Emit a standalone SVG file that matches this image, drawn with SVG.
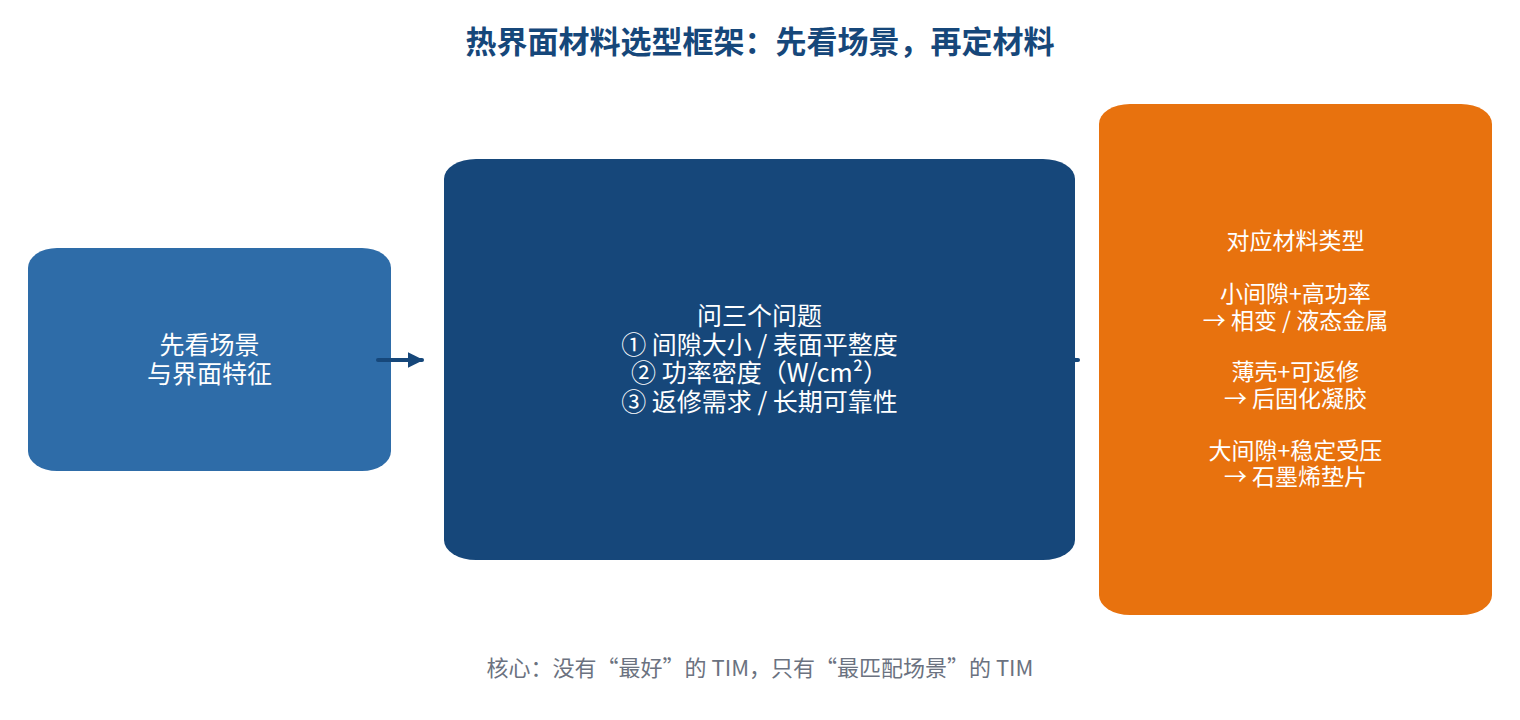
<svg xmlns="http://www.w3.org/2000/svg" width="1520" height="720" viewBox="0 0 1520 720">
<style>
.t{font-family:"Noto Sans CJK SC","Noto Sans",sans-serif;fill:#ffffff;text-anchor:middle}
.n{font-size:25px}
.o{font-size:23px}
.title{font-family:"Noto Sans CJK SC","Noto Sans",sans-serif;font-weight:bold;font-size:31px;fill:#16477a;text-anchor:middle}
.foot{font-family:"Noto Sans CJK SC","Noto Sans",sans-serif;font-size:22px;fill:#6b7280;text-anchor:middle}
.edge{stroke:#16477a;stroke-width:4;stroke-linecap:round;fill:none}
</style>
<defs>
<marker id="ah" viewBox="0 0 10 10" refX="9" refY="5" markerWidth="4" markerHeight="4" orient="auto" markerUnits="strokeWidth">
<path d="M0,0 L10,5 L0,10 z" fill="#16477a"/>
</marker>
</defs>
<rect width="1520" height="720" fill="#ffffff"/>
<text class="title" x="760" y="53">热界面材料选型框架：先看场景，再定材料</text>
<g id="node-scene">
<rect x="28" y="248" width="363" height="223" rx="29" ry="20" fill="#2e6ca8"/>
<text class="t n" x="209.5" y="354">先看场景</text>
<text class="t n" x="209.5" y="383">与界面特征</text>
</g>
<g id="connectors">
<path class="edge" d="M378,360 L422,360" marker-end="url(#ah)"/>
<path class="edge" d="M1040,360 L1078,360" marker-end="url(#ah)"/>
</g>
<g id="node-questions">
<rect x="444" y="159" width="631" height="401" rx="32" ry="20" fill="#16477a"/>
<text class="t n" x="759.5" y="325">问三个问题</text>
<text class="t n" x="759.5" y="353.5">① 间隙大小 / 表面平整度</text>
<text class="t n" x="759.5" y="382">② 功率密度（W/cm²）</text>
<text class="t n" x="759.5" y="410.5">③ 返修需求 / 长期可靠性</text>
</g>
<g id="node-materials">
<rect x="1099" y="104" width="393" height="511" rx="31" ry="20" fill="#e8720e"/>
<text class="t o" x="1295.5" y="249">对应材料类型</text>
<text class="t o" x="1295.5" y="302">小间隙+高功率</text>
<text class="t o" x="1295.5" y="328.5">→ 相变 / 液态金属</text>
<text class="t o" x="1295.5" y="380">薄壳+可返修</text>
<text class="t o" x="1295.5" y="406.5">→ 后固化凝胶</text>
<text class="t o" x="1295.5" y="458.5">大间隙+稳定受压</text>
<text class="t o" x="1295.5" y="485">→ 石墨烯垫片</text>
</g>
<text class="foot" x="760" y="676">核心：没有“最好”的 TIM，只有“最匹配场景”的 TIM</text>
</svg>
